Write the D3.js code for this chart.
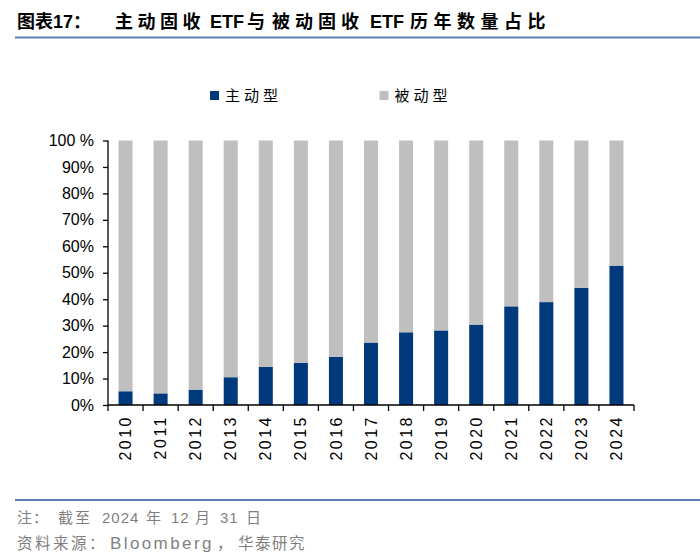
<!DOCTYPE html>
<html>
<head>
<meta charset="utf-8">
<script src="https://cdn.jsdelivr.net/npm/d3@7/dist/d3.min.js"></script>
<style>
  html, body { margin: 0; padding: 0; background: #fff; }
  svg { display: block; }
</style>
</head>
<body>
<svg id="chart" width="700" height="560"></svg>
<script>
const years = ['2010', '2011', '2012', '2013', '2014', '2015', '2016', '2017', '2018', '2019', '2020', '2021', '2022', '2023', '2024'];
// 主动型 share (%); 被动型 is the rest
const activeShare = [5.2, 4.4, 5.8, 10.5, 14.4, 15.9, 18.2, 23.6, 27.5, 28.2, 30.4, 37.3, 38.9, 44.3, 52.7];
const passiveShare = activeShare.map((v) => 100 - v);
const seriesNames = ['主动型', '被动型'];
const yTicks = [0, 10, 20, 30, 40, 50, 60, 70, 80, 90, 100];

const BLUE = '#003a7d';
const GRAY = '#bfbfbf';
const CJK = '"Noto Sans CJK SC", sans-serif';
const LATIN = '"Liberation Sans", Arial, sans-serif';
const MIXED = `"Liberation Sans", "Noto Sans CJK SC", sans-serif`;

const svg = d3.select('#chart');
const margin = { left: 108, right: 66, top: 140.5, bottom: 155 };
const width = 700, height = 560;

// text pieces placed one by one so the wide CJK spacing of the original holds
function spacedText(parent, pieces, attrs) {
  const t = parent.append('text');
  Object.entries(attrs).forEach(([k, v]) => t.attr(k, v));
  pieces.forEach(([str, px, ls, fs]) => {
    const span = t.append('tspan').attr('x', px).attr('letter-spacing', ls || 0).text(str);
    if (fs) span.attr('font-size', fs);
  });
  return t;
}

// title + rule
spacedText(svg, [
  ['图表17：', 17, 0],
  ['主动固收', 115, 4.5],
  ['ETF', 210, 0],
  ['与', 247, 0],
  ['被动固收', 272, 5],
  ['ETF', 370, 0],
  ['历年数量占比', 410, 5.5]
], { y: 28, 'font-family': MIXED, 'font-weight': 'bold', 'font-size': 18, fill: '#000' });

svg.append('line')
  .attr('x1', 15).attr('x2', 700)
  .attr('y1', 37.5).attr('y2', 37.5)
  .attr('stroke', '#5b7fb5').attr('stroke-width', 2);

const x = d3.scaleBand()
  .domain(years)
  .range([margin.left, width - margin.right])
  .paddingInner(0.6)
  .paddingOuter(0.3);

const y = d3.scaleLinear()
  .domain([0, 100])
  .range([height - margin.bottom, margin.top]);

const stackData = years.map((yr, i) => ({ year: yr, active: activeShare[i], passive: passiveShare[i] }));
const stacked = d3.stack().keys(['active', 'passive'])(stackData);
const colors = [BLUE, GRAY];

svg.append('g')
  .selectAll('g')
  .data(stacked)
  .join('g')
  .attr('fill', (d, i) => colors[i])
  .selectAll('rect')
  .data((d) => d)
  .join('rect')
  .attr('x', (d) => x(d.data.year))
  .attr('width', x.bandwidth())
  .attr('y', (d) => y(d[1]))
  .attr('height', (d) => y(d[0]) - y(d[1]));

// y axis
const yAxis = svg.append('g')
  .attr('transform', `translate(${margin.left},0)`)
  .call(d3.axisLeft(y).tickValues(yTicks).tickSize(5).tickPadding(9)
    .tickFormat((d) => d === 100 ? '100 %' : d + '%'));
yAxis.selectAll('text')
  .attr('font-family', LATIN).attr('font-size', 16).attr('fill', '#000');
yAxis.selectAll('line, path').attr('stroke', '#000').attr('stroke-width', 1.3);
yAxis.select('.domain').attr('d', `M0,${y(100)}V${y(0)}`);

// x axis: ticks at category boundaries
const step = x.step();
const x0 = margin.left;
const xAxisG = svg.append('g');
xAxisG.append('line')
  .attr('x1', x0).attr('x2', width - margin.right)
  .attr('y1', y(0)).attr('y2', y(0))
  .attr('stroke', '#000').attr('stroke-width', 1.3);
xAxisG.selectAll('line.tick')
  .data(d3.range(years.length + 1))
  .join('line')
  .attr('class', 'tick')
  .attr('x1', (i) => x0 + i * step).attr('x2', (i) => x0 + i * step)
  .attr('y1', y(0)).attr('y2', y(0) + 6)
  .attr('stroke', '#000').attr('stroke-width', 1.3);
xAxisG.selectAll('text')
  .data(years)
  .join('text')
  .attr('transform', (d) => `translate(${x(d) + x.bandwidth() / 2},${y(0) + 10}) rotate(-90)`)
  .attr('text-anchor', 'end')
  .attr('dy', '0.35em')
  .attr('font-family', LATIN)
  .attr('font-size', 16)
  .attr('letter-spacing', 2.5)
  .attr('fill', '#000')
  .text((d) => d);

// legend
const legend = svg.append('g')
  .selectAll('g')
  .data(seriesNames)
  .join('g')
  .attr('transform', (d, i) => `translate(${210 + i * 169.5},91)`);
legend.append('rect')
  .attr('width', 9).attr('height', 9)
  .attr('fill', (d, i) => colors[i]);
legend.append('text')
  .attr('x', 15).attr('y', 10)
  .attr('font-family', CJK)
  .attr('font-size', 15)
  .attr('letter-spacing', 4)
  .attr('fill', '#000')
  .text((d) => d);

// footer
svg.append('line')
  .attr('x1', 15).attr('x2', 700)
  .attr('y1', 500).attr('y2', 500)
  .attr('stroke', '#5b7fb5').attr('stroke-width', 2);

const noteAttrs = { 'font-family': MIXED, 'font-size': 15, fill: '#7f7f7f' };
spacedText(svg, [
  ['注：', 17, 1],
  ['截至', 58, 2],
  ['2024', 102, 1],
  ['年', 146, 0],
  ['12', 171, 1],
  ['月', 195, 0],
  ['31', 220, 1],
  ['日', 246, 0]
], Object.assign({ y: 523 }, noteAttrs));
spacedText(svg, [
  ['资料来源：', 17, 2.5],
  ['Bloomberg', 110, 2.4, 17],
  ['，', 217, 0],
  ['华泰研究', 238, 1.5]
], Object.assign({}, noteAttrs, { y: 549, 'font-size': 15.5 }));
</script>
</body>
</html>
